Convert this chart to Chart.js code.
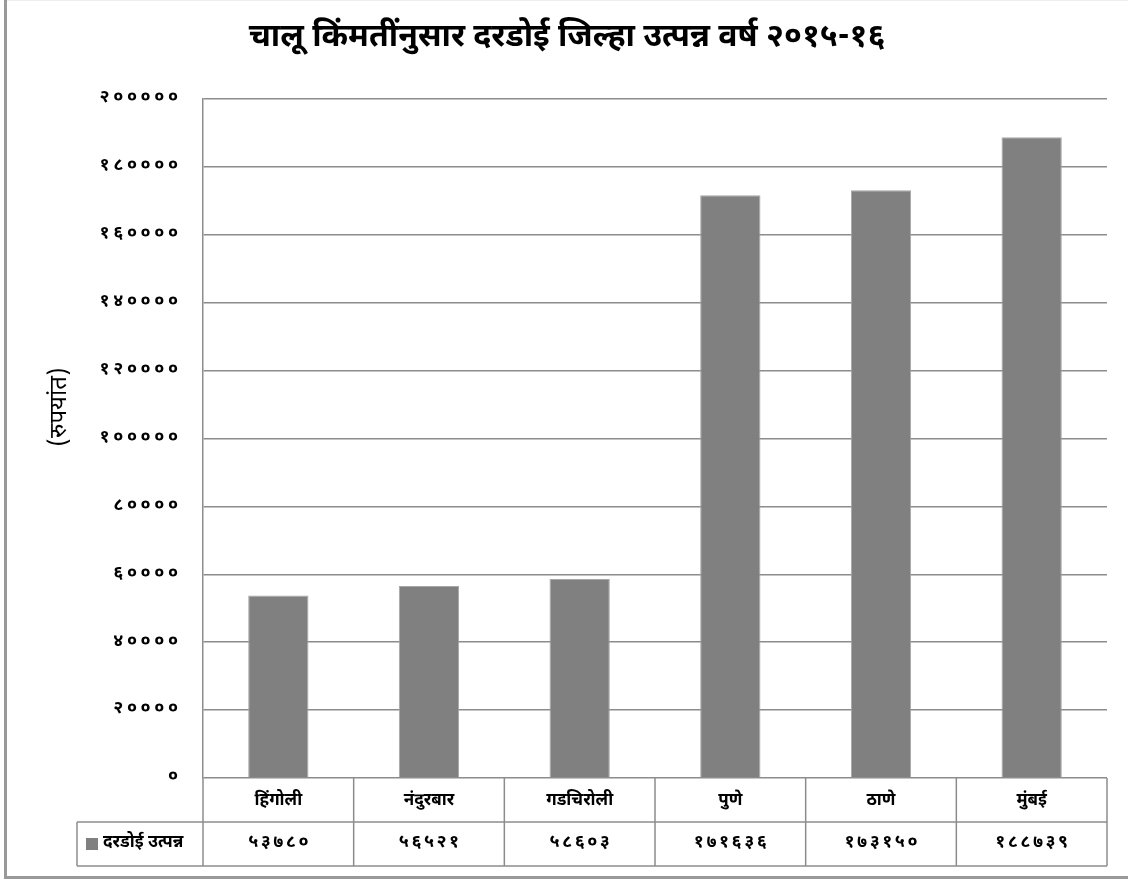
<!DOCTYPE html>
<html>
<head>
<meta charset="utf-8">
<script src="https://cdn.jsdelivr.net/npm/chart.js@4.4.0/dist/chart.umd.min.js"></script>
<style>
  html, body { margin: 0; padding: 0; background: #fff; }
  #wrap { width: 1128px; height: 880px; position: relative; }
</style>
</head>
<body>
<div id="wrap"><canvas id="chart"></canvas></div>
<script>
// data
const categories = ['हिंगोली', 'नंदुरबार', 'गडचिरोली', 'पुणे', 'ठाणे', 'मुंबई'];
const incomeValues = [53780, 56521, 58603, 171636, 173150, 188739];
const seriesName = 'दरडोई उत्पन्न';
const chartTitle = 'चालू किंमतींनुसार दरडोई जिल्हा उत्पन्न वर्ष २०१५-१६';
const yAxisTitle = '(रुपयांत)';
const yMin = 0;
const yMax = 200000;
const yStep = 20000;

const FONT = '"Noto Sans Devanagari", "Lohit Devanagari", "Noto Sans", sans-serif';
const LINE = '#8c8c8c';
const BAR = '#808080';

const devDigits = '०१२३४५६७८९';
function toDev(n, sep) {
    return String(n).split('').map(d => devDigits[+d] || d).join(sep || '');
}

// title, table under the plot, y axis title and page frame
const tablePlugin = {
    id: 'dataTable',
    afterDraw(chart) {
        const ctx = chart.ctx;
        const area = chart.chartArea;
        const x = chart.scales.x;
        const top = area.bottom;
        const mid = 822;
        const bot = 866;
        const legendLeft = 77;

        const line = (x1, y1, x2, y2) => {
            ctx.beginPath();
            ctx.moveTo(x1, y1);
            ctx.lineTo(x2, y2);
            ctx.stroke();
        };

        ctx.save();
        ctx.strokeStyle = LINE;
        ctx.lineWidth = 1.5;

        // chart title
        ctx.fillStyle = '#000';
        ctx.font = 'bold 32px ' + FONT;
        ctx.textAlign = 'center';
        ctx.textBaseline = 'middle';
        ctx.fillText(chartTitle, 567, 40);

        // horizontal rules
        line(legendLeft, mid, area.right, mid);
        line(legendLeft, bot, area.right, bot);
        // vertical rules
        line(legendLeft, mid, legendLeft, bot);
        line(area.left, top, area.left, bot);
        line(area.right, top, area.right, bot);
        for (let i = 1; i < categories.length; i++) {
            const xb = (x.getPixelForValue(i - 1) + x.getPixelForValue(i)) / 2;
            line(xb, top, xb, bot);
        }

        // values row
        ctx.font = 'bold 18px ' + FONT;
        ctx.letterSpacing = '2.5px';
        incomeValues.forEach((v, i) => {
            ctx.fillText(toDev(v), x.getPixelForValue(i) + 1.25, (mid + bot) / 2);
        });
        ctx.letterSpacing = '0px';

        // legend key
        ctx.fillStyle = BAR;
        ctx.fillRect(legendLeft + 9, 838, 12, 12);
        ctx.fillStyle = '#000';
        ctx.textAlign = 'left';
        ctx.font = 'bold 17px ' + FONT;
        ctx.fillText(seriesName, legendLeft + 26, (mid + bot) / 2);

        // y axis title
        ctx.save();
        ctx.translate(62, 407);
        ctx.rotate(-Math.PI / 2);
        ctx.textAlign = 'center';
        ctx.font = '24px ' + FONT;
        ctx.fillText(yAxisTitle, 0, 0);
        ctx.restore();

        // page frame
        ctx.fillStyle = '#999';
        ctx.fillRect(4, 0, 3, 879);
        ctx.fillRect(4, 876, 1124, 3);
        ctx.fillStyle = '#eee';
        ctx.fillRect(7, 0, 1121, 1);

        ctx.restore();
    }
};

new Chart(document.getElementById('chart'), {
    type: 'bar',
    data: {
        labels: categories,
        datasets: [{
            label: seriesName,
            data: incomeValues,
            backgroundColor: BAR,
            borderColor: '#a6a6a6',
            borderWidth: 1,
            categoryPercentage: 0.8,
            barPercentage: 0.5
        }]
    },
    options: {
        responsive: true,
        maintainAspectRatio: false,
        animation: false,
        layout: {
            padding: { top: 99, left: 0, right: 21, bottom: 53.6 }
        },
        scales: {
            x: {
                grid: { display: false, drawTicks: false },
                border: { display: false },
                ticks: {
                    color: '#000',
                    padding: 14,
                    font: { family: FONT, size: 17, weight: 'bold' }
                }
            },
            y: {
                min: yMin,
                max: yMax,
                afterFit: (scale) => { scale.width = 203; },
                grid: { color: LINE, lineWidth: 1.5, drawTicks: false },
                border: { display: true, color: LINE, width: 1.5 },
                ticks: {
                    stepSize: yStep,
                    color: '#000',
                    padding: 25,
                    font: { family: FONT, size: 18, weight: 'bold' },
                    callback: (v) => toDev(v, '\u2009')
                }
            }
        },
        plugins: {
            legend: { display: false },
            tooltip: { enabled: false },
            title: { display: false }
        }
    },
    plugins: [tablePlugin]
});
</script>
</body>
</html>
